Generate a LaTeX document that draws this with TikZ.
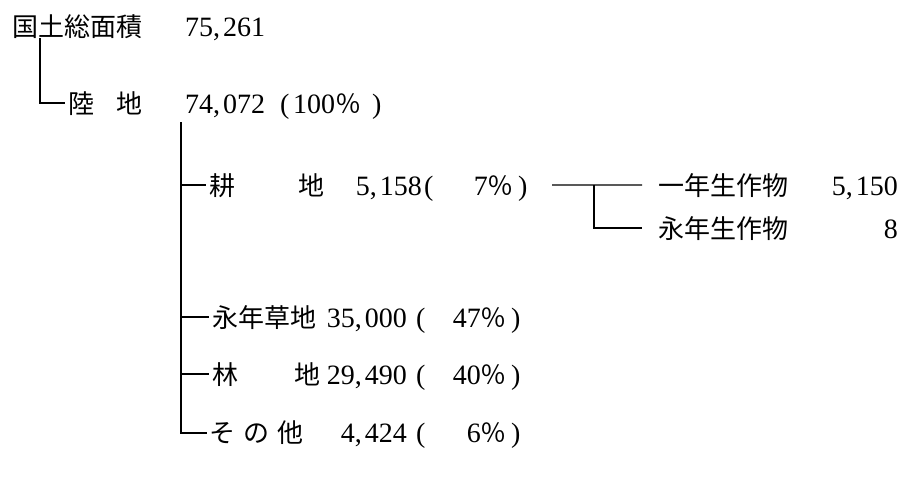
\documentclass[tikz,border=0pt]{standalone}
\usepackage{fontspec}
\setmainfont{Liberation Serif}
\newfontfamily\jp{Noto Sans CJK JP}
\newcommand\pc{{\jp\fontsize{26}{30}\selectfont ％}}
\begin{document}
\begin{tikzpicture}[x=1pt,y=-1pt,
  jt/.style={font=\jp\fontsize{26}{30}\selectfont,inner sep=0pt,anchor=base west},
  nw/.style={font=\fontsize{28}{32}\selectfont,inner sep=0pt,anchor=base west},
  ne/.style={font=\fontsize{28}{32}\selectfont,inner sep=0pt,anchor=base east},
  trunk/.style={line width=2pt},
  twig/.style={line width=1.6pt},
  fine/.style={line width=1.3pt}]
\fill[white] (0,0) rectangle (900,491);
\useasboundingbox (0,0) rectangle (900,491);

% row 0
\node[jt] (koku) at (12,36) {国土総面積};
\node[nw] (v0) at (185,36) {75,\kern3pt261};
% row 1
\node[jt] (riku) at (68,113) {陸};
\node[jt] (riku2) at (116,113) {地};
\node[nw] (v1) at (185,113) {74,\kern3pt072};
\node[nw] (o1) at (280,113) {(};
\node[nw] (p1) at (293,113) {100\pc};
\node[nw] (c1) at (372,113) {)};

\coordinate (t1) at (40,38);
\draw[twig] (t1) |- ([xshift=-3pt]riku.west);

% row kouchi
\node[jt] (kou) at (209,195) {耕};
\node[jt] (kou2) at (298,195) {地};
\node[ne] (vk) at (422,195) {5,\kern3pt158};
\node[nw] (ok) at (424,195) {(};
\node[ne] (pk) at (514,195) {7\pc};
\node[nw] (ck) at (518,195) {)};

\node[jt] (ichi) at (658,195) {一年生作物};
\node[ne] (vi) at (898,195) {5,\kern3pt150};
\node[jt] (ei) at (658,238) {永年生作物};
\node[ne] (ve) at (898,238) {8};

\coordinate (s0) at (552,185);
\coordinate (s1) at (594,185);
\draw[fine] (s0) -- ([xshift=-16pt]ichi.west);
\draw[fine] (s1) |- ([xshift=-16pt]ei.west);

% row eisouchi
\node[jt] (sou) at (212,327) {永年草地};
\node[ne] (vs) at (407,327) {35,\kern3pt000};
\node[nw] (os) at (416,327) {(};
\node[ne] (ps) at (507,327) {47\pc};
\node[nw] (cs) at (511,327) {)};

% row rinchi
\node[jt] (rin) at (212,384) {林};
\node[jt] (rin2) at (294,384) {地};
\node[ne] (vr) at (407,384) {29,\kern3pt490};
\node[nw] (or) at (416,384) {(};
\node[ne] (pr) at (507,384) {40\pc};
\node[nw] (cr) at (511,384) {)};

% row sonota
\node[jt] (so) at (209,442) {そ};
\node[jt] (no) at (243,442) {の};
\node[jt] (ta) at (277,442) {他};
\node[ne] (vo) at (407,442) {4,\kern3pt424};
\node[nw] (oo) at (416,442) {(};
\node[ne] (po) at (507,442) {6\pc};
\node[nw] (co) at (511,442) {)};

% trunk
\coordinate (t2) at (181,122);
\draw[trunk] (t2) |- ([xshift=-2pt]so.west);
\draw[twig] (t2 |- kou.west) -- ([xshift=-3pt]kou.west);
\draw[twig] (t2 |- sou.west) -- ([xshift=-3pt]sou.west);
\draw[twig] (t2 |- rin.west) -- ([xshift=-3pt]rin.west);
\end{tikzpicture}
\end{document}
